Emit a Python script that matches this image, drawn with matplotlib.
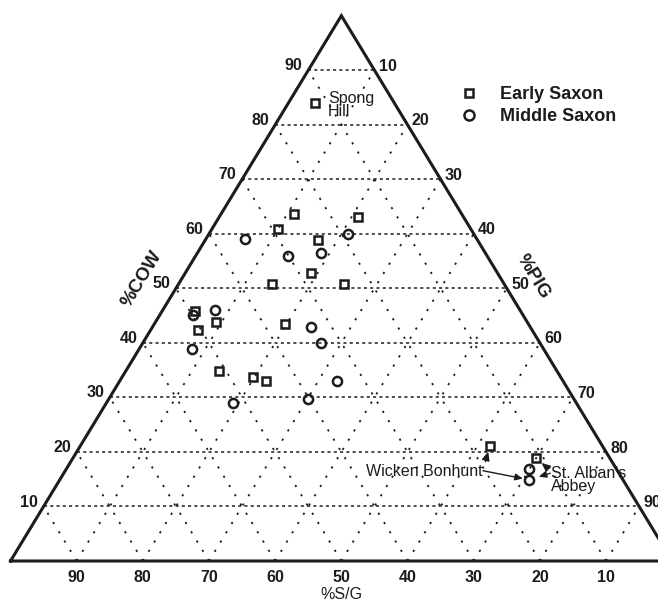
import matplotlib
matplotlib.use("Agg")
import matplotlib.pyplot as plt
import numpy as np

plt.rcParams['font.family'] = ['Liberation Sans', 'DejaVu Sans']

# Bone-fragment composition (%) per site: cattle, pig, sheep/goat
early_cow = [84.0, 63.6, 60.9, 63.0, 58.9, 52.9, 50.8, 50.8, 45.9, 43.9, 42.4, 43.5, 34.8, 33.7, 33.0, 21.1, 18.9]
early_pig = [4.0, 11.0, 9.9, 21.0, 17.0, 18.9, 14.1, 25.0, 4.9, 9.1, 7.1, 19.8, 14.1, 19.8, 22.1, 61.9, 69.9]
early_sg = [12.0, 25.4, 29.2, 16.0, 24.1, 28.2, 35.1, 24.2, 49.2, 47.0, 50.5, 36.7, 51.1, 46.5, 44.9, 17.0, 11.2]

middle_cow = [59.0, 60.0, 55.9, 56.5, 46.1, 45.1, 43.0, 39.9, 38.9, 33.0, 29.8, 28.9, 16.9, 14.9]
middle_pig = [6.0, 21.0, 14.0, 18.6, 7.9, 5.0, 23.9, 27.0, 8.0, 32.9, 30.1, 19.1, 69.9, 70.9]
middle_sg = [35.0, 19.0, 30.1, 24.9, 46.0, 49.9, 33.1, 33.1, 53.1, 34.1, 40.1, 52.0, 13.2, 14.2]

tick_values = [10, 20, 30, 40, 50, 60, 70, 80, 90]

# named sites: (series, index)
spong_hill = ('early', 0)
wicken_early = ('early', 15)
st_albans_early = ('early', 16)
wicken_middle = ('middle', 13)
st_albans_middle = ('middle', 13)

INK = '#1c1c1c'


def to_xy(cow, pig):
    """Ternary (cow, pig) -> plane: pig corner bottom right, cow at apex."""
    cow = np.asarray(cow, float)
    pig = np.asarray(pig, float)
    return pig + cow / 2.0, cow


fig = plt.figure(figsize=(6.58, 6.02), dpi=100)
ax = fig.add_axes([0, 0, 1, 1])
ax.set_xlim(-1.587, 97.85)
ax.set_ylim(-7.519, 102.88)
ax.axis('off')

# dotted grid
for k in tick_values:
    x, y = to_xy([k, k], [0, 100 - k])
    ax.plot(x, y, color=INK, lw=1.1, dashes=(2.0, 2.1), zorder=1)
    x, y = to_xy([0, 100 - k], [k, k])
    ax.plot(x, y, color=INK, lw=1.3, dashes=(1.2, 4.8), zorder=1)
    x, y = to_xy([0, 100 - k], [100 - k, 0])
    ax.plot(x, y, color=INK, lw=1.3, dashes=(1.2, 4.8), zorder=1)

# triangle frame
x, y = to_xy([0, 100, 0, 0], [0, 0, 100, 0])
ax.plot(x, y, color=INK, lw=2.2, solid_joinstyle='miter', zorder=2)

tick_font = dict(fontsize=11.5, fontweight='bold', color=INK)
for k in tick_values:
    # %COW on the left edge
    ax.annotate(str(k), xy=to_xy(k, 0), xytext=(-4, 3.2), textcoords='offset points',
                ha='right', va='center', **tick_font)
    # %PIG on the right edge
    ax.annotate(str(100 - k), xy=to_xy(k, 100 - k), xytext=(3.2, 2.8), textcoords='offset points',
                ha='left', va='center', **tick_font)
    # %S/G along the base
    ax.annotate(str(k), xy=to_xy(0, 100 - k), xytext=(0, -12), textcoords='offset points',
                ha='center', va='center', **tick_font)

ax.annotate('%S/G', xy=to_xy(0, 50), xytext=(0, -24.3), textcoords='offset points',
            ha='center', va='center', fontsize=11.5, color=INK)
ax.text(19.8, 51.8, '%COW', rotation=58.75, ha='center', va='center',
        fontsize=13.5, fontweight='bold', color=INK, rotation_mode='anchor')
ax.text(79.0, 52.1, '%PIG', rotation=-58.75, ha='center', va='center',
        fontsize=13.5, fontweight='bold', color=INK, rotation_mode='anchor')

# data
ex, ey = to_xy(early_cow, early_pig)
mx, my = to_xy(middle_cow, middle_pig)
h_mid, = ax.plot(mx, my, ls='none', marker='o', ms=6.6, mfc='none', mec=INK, mew=1.8,
                 zorder=3, label='Middle Saxon')
h_early, = ax.plot(ex, ey, ls='none', marker='s', ms=5.8, mfc='none', mec=INK, mew=1.8,
                   zorder=4, label='Early Saxon')

ax.legend(handles=[h_early, h_mid], loc='upper left', frameon=False,
          bbox_to_anchor=(460 / 658, 1 - 86 / 602), bbox_transform=fig.transFigure,
          prop={'weight': 'bold', 'size': 13}, handlelength=1.0, handletextpad=1.2,
          borderpad=0, borderaxespad=0, labelspacing=0.3, markerscale=1.1,
          labelcolor=INK)


def site_xy(site):
    series, i = site
    if series == 'early':
        return ex[i], ey[i]
    return mx[i], my[i]


note_font = dict(fontsize=11.5, color=INK)
arrow = dict(arrowstyle='-|>,head_length=0.45,head_width=0.2', color=INK, lw=1.0,
             shrinkA=0)

ax.annotate('Spong\nHill', xy=site_xy(spong_hill), xytext=(9.4, -1.6),
            textcoords='offset points', ha='left', va='center', linespacing=0.85,
            **note_font)

ax.annotate('Wicken Bonhunt', xy=site_xy(wicken_early), xytext=(-5.3, -18.2),
            textcoords='offset points', ha='right', va='center', **note_font,
            arrowprops=dict(arrow, relpos=(1.0, 0.5), shrinkB=4.3))
ax.annotate('', xy=site_xy(wicken_middle), xytext=(-33.1, 6.5),
            textcoords='offset points', arrowprops=dict(arrow, shrinkB=4.5))

ax.annotate("St. Alban's\nAbbey", xy=site_xy(st_albans_early), xytext=(10.8, -16.0),
            textcoords='offset points', ha='left', va='center', linespacing=0.85,
            **note_font, arrowprops=dict(arrow, relpos=(0.0, 0.84), shrinkB=5.6))
ax.annotate('', xy=site_xy(st_albans_middle), xytext=(15.3, 4.7),
            textcoords='offset points', arrowprops=dict(arrow, shrinkB=7.4))

fig.savefig('out.png', dpi=100)
